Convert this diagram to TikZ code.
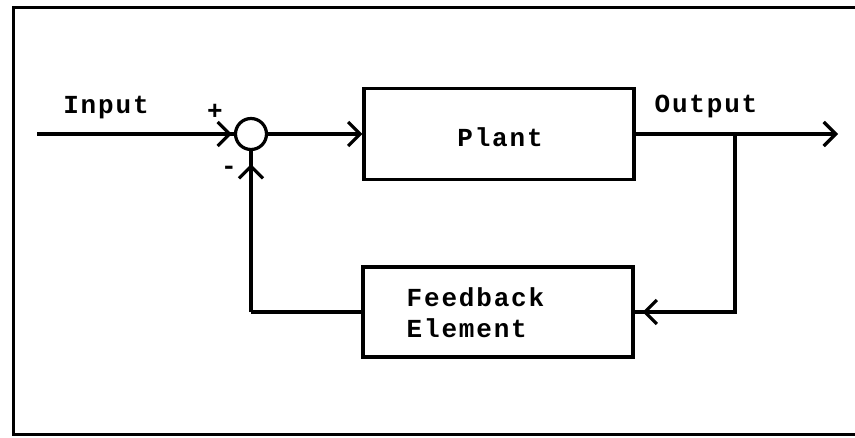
\documentclass[tikz,border=0pt]{standalone}
\usepackage{fontspec}
\setmonofont[LetterSpace=7]{Liberation Mono}
\usetikzlibrary{arrows.meta,decorations.markings}
\begin{document}
\begin{tikzpicture}[x=1pt,y=-1pt,
  line width=3.4pt,
  >={Straight Barb[length=12pt,width=24pt,line width=3.2pt]},
  blk/.style={draw,rectangle,minimum width=270pt,line width=3.2pt},
  lbl/.style={font=\ttfamily\bfseries\fontsize{26}{32}\selectfont,inner sep=0pt},
  sumj/.style={draw,circle,minimum size=31pt,inner sep=0pt,line width=3.2pt},
  arrowat/.style={postaction={decorate,decoration={markings,mark=at position #1 with {\arrow{>}}}}}]
\useasboundingbox (0,0) rectangle (855,437);
% frame
\draw[line width=3pt] (855,7) -- (13,7) -- (13,434) -- (855,434);
% nodes
\node[sumj] (sum) at (251,134) {};
\node[blk,minimum height=91pt] (plant) at (499,134) {};
\node[lbl] (plantt) at (500,137) {Plant};
\node[blk,minimum height=90pt] (fb) at (498,312) {};
\node[lbl,anchor=west] (fbt1) at (405,297) {Feedback};
\node[lbl,anchor=west] (fbt2) at (405,328) {Element};
\node[lbl] (inl) at (106,108) {Input};
\node[lbl] (outl) at (706,106) {Output};
\node[lbl] (plus) at (215,112) {+};
\node[lbl] (minus) at (229,170) {-};
\coordinate (in) at (37,134);
\coordinate (out) at (838,134);
\coordinate (br) at (735,134);
\coordinate (fbl) at (251,312);
% connectors
\draw[arrowat=-2pt] (in) -- (sum.west);
\draw[->] (sum.east) -- (plant.west);
\draw[->] (plant.east) -- (out);
\draw[arrowat=-8pt] (br) |- (fb.east);
\draw (fb.west) -- (fbl);
\draw[arrowat=-13pt] (fbl) -- (sum.south);
\end{tikzpicture}
\end{document}
